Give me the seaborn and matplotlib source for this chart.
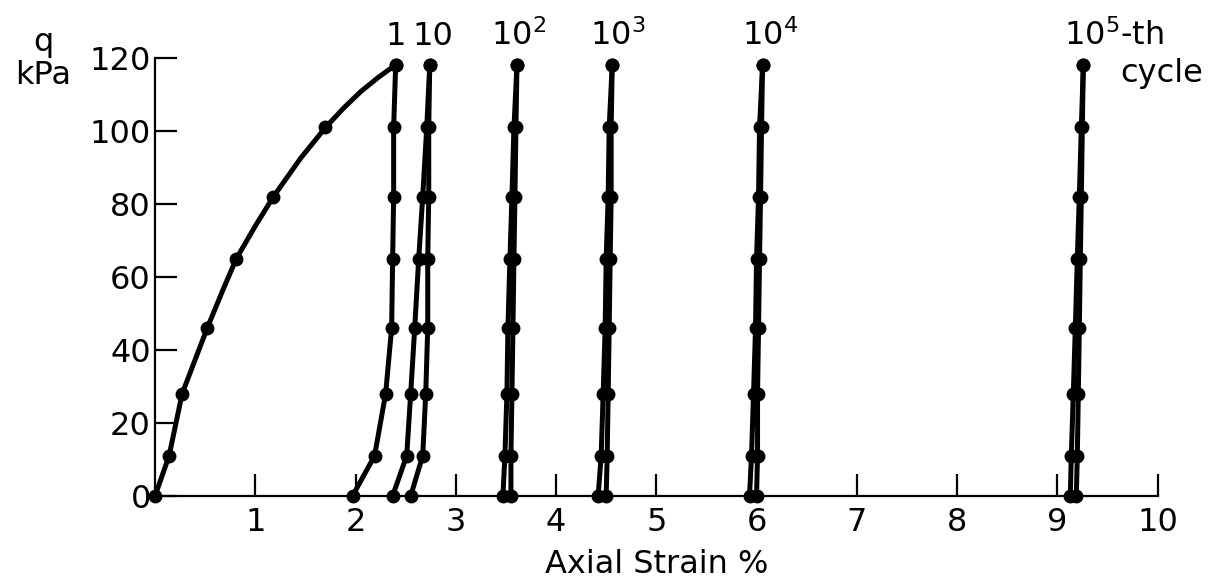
import numpy as np
import pandas as pd
import seaborn as sns
import matplotlib.pyplot as plt

# deviator stress levels (kPa) where the dots sit, shared by every branch
q_levels = [0, 11, 28, 46, 65, 82, 101, 118]

first_load = [0.00, 0.14, 0.27, 0.52, 0.81, 1.18, 1.70, 2.40]
cycle1_unload = [1.97, 2.19, 2.30, 2.36, 2.37, 2.38, 2.38, 2.40]
cycle10_load = [2.37, 2.51, 2.55, 2.59, 2.63, 2.67, 2.71, 2.74]
cycle10_unload = [2.55, 2.67, 2.70, 2.72, 2.72, 2.73, 2.73, 2.74]
cycle1e2_load = [3.47, 3.49, 3.51, 3.52, 3.54, 3.56, 3.58, 3.61]
cycle1e2_unload = [3.55, 3.55, 3.56, 3.57, 3.58, 3.59, 3.60, 3.61]
cycle1e3_load = [4.42, 4.45, 4.47, 4.49, 4.50, 4.52, 4.53, 4.56]
cycle1e3_unload = [4.50, 4.51, 4.52, 4.53, 4.54, 4.55, 4.55, 4.56]
cycle1e4_load = [5.93, 5.95, 5.97, 5.99, 6.00, 6.02, 6.03, 6.06]
cycle1e4_unload = [6.00, 6.01, 6.01, 6.02, 6.03, 6.04, 6.05, 6.06]
cycle1e5_load = [9.13, 9.14, 9.16, 9.18, 9.20, 9.22, 9.24, 9.26]
cycle1e5_unload = [9.19, 9.20, 9.21, 9.22, 9.23, 9.24, 9.25, 9.26]

# the smooth first-loading curve (extra points between dots)
first_curve_strain = [0.00, 0.14, 0.27, 0.52, 0.67, 0.81, 1.00, 1.18, 1.45, 1.70,
                      1.88, 2.05, 2.22, 2.33, 2.40]
first_curve_q = [0, 11, 28, 46, 56, 65, 74, 82, 92.5, 101,
                 106.3, 110.8, 114.6, 116.8, 118]

# cycle labels and where they sit (strain %)
cycle_labels = ['1', '10', r'$\mathregular{10^2}$', r'$\mathregular{10^3}$', r'$\mathregular{10^4}$']
cycle_label_x = [2.40, 2.77, 3.63, 4.62, 6.13]

branches = {
    'first': first_load, 'c1': cycle1_unload,
    'c10a': cycle10_load, 'c10b': cycle10_unload,
    'c100a': cycle1e2_load, 'c100b': cycle1e2_unload,
    'c1000a': cycle1e3_load, 'c1000b': cycle1e3_unload,
    'c1e4a': cycle1e4_load, 'c1e4b': cycle1e4_unload,
    'c1e5a': cycle1e5_load, 'c1e5b': cycle1e5_unload,
}
rows = []
for name, strains in branches.items():
    for s, q in zip(strains, q_levels):
        rows.append({'branch': name, 'strain': s, 'q': q})
dots = pd.DataFrame(rows)

# lines: the first loading uses the traced curve, the others join their dots
lines = dots[dots.branch != 'first']
curve = pd.DataFrame({'branch': 'first', 'strain': first_curve_strain, 'q': first_curve_q})
lines = pd.concat([curve, lines], ignore_index=True)

sns.set_style('ticks')
plt.rcParams['font.family'] = ['DejaVu Sans']
plt.rcParams['text.color'] = 'black'
plt.rcParams['axes.labelcolor'] = 'black'

fig = plt.figure(figsize=(12.21, 5.82), dpi=100)
ax = fig.add_axes([0.127, 0.148, 0.821, 0.752])

sns.lineplot(data=lines, x='strain', y='q', units='branch', estimator=None, sort=False,
             color='black', lw=3.6, clip_on=False, ax=ax, legend=False)
sns.scatterplot(data=dots, x='strain', y='q', color='black', s=100, edgecolor='black',
                linewidth=0, clip_on=False, ax=ax, legend=False, zorder=3)

ax.set_xlim(0, 10)
ax.set_ylim(0, 120)
ax.set_xticks(range(1, 11))
ax.set_yticks(range(0, 121, 20))
ax.tick_params(direction='in', length=16, width=1.6, labelsize=23, colors='black')
ax.tick_params(axis='y', pad=3)
ax.tick_params(axis='x', pad=8)
sns.despine(ax=ax)
for side in ['left', 'bottom']:
    ax.spines[side].set_linewidth(1.6)
    ax.spines[side].set_color('black')

ax.set_xlabel('Axial Strain %', fontsize=23, labelpad=8)
ax.set_ylabel('')

for lab, x in zip(cycle_labels, cycle_label_x):
    ax.text(x, 123.5, lab, ha='center', va='baseline', fontsize=23, clip_on=False)
ax.text(9.07, 123.5, r'$\mathregular{10^5}$-th', ha='left', va='baseline', fontsize=23)
ax.text(9.63, 113.4, 'cycle', ha='left', va='baseline', fontsize=23)

fig.text(43 / 1221, 1 - 42 / 582, 'q', ha='center', va='center', fontsize=23)
fig.text(43 / 1221, 1 - 75 / 582, 'kPa', ha='center', va='center', fontsize=23)

fig.savefig('out.png', dpi=100)
